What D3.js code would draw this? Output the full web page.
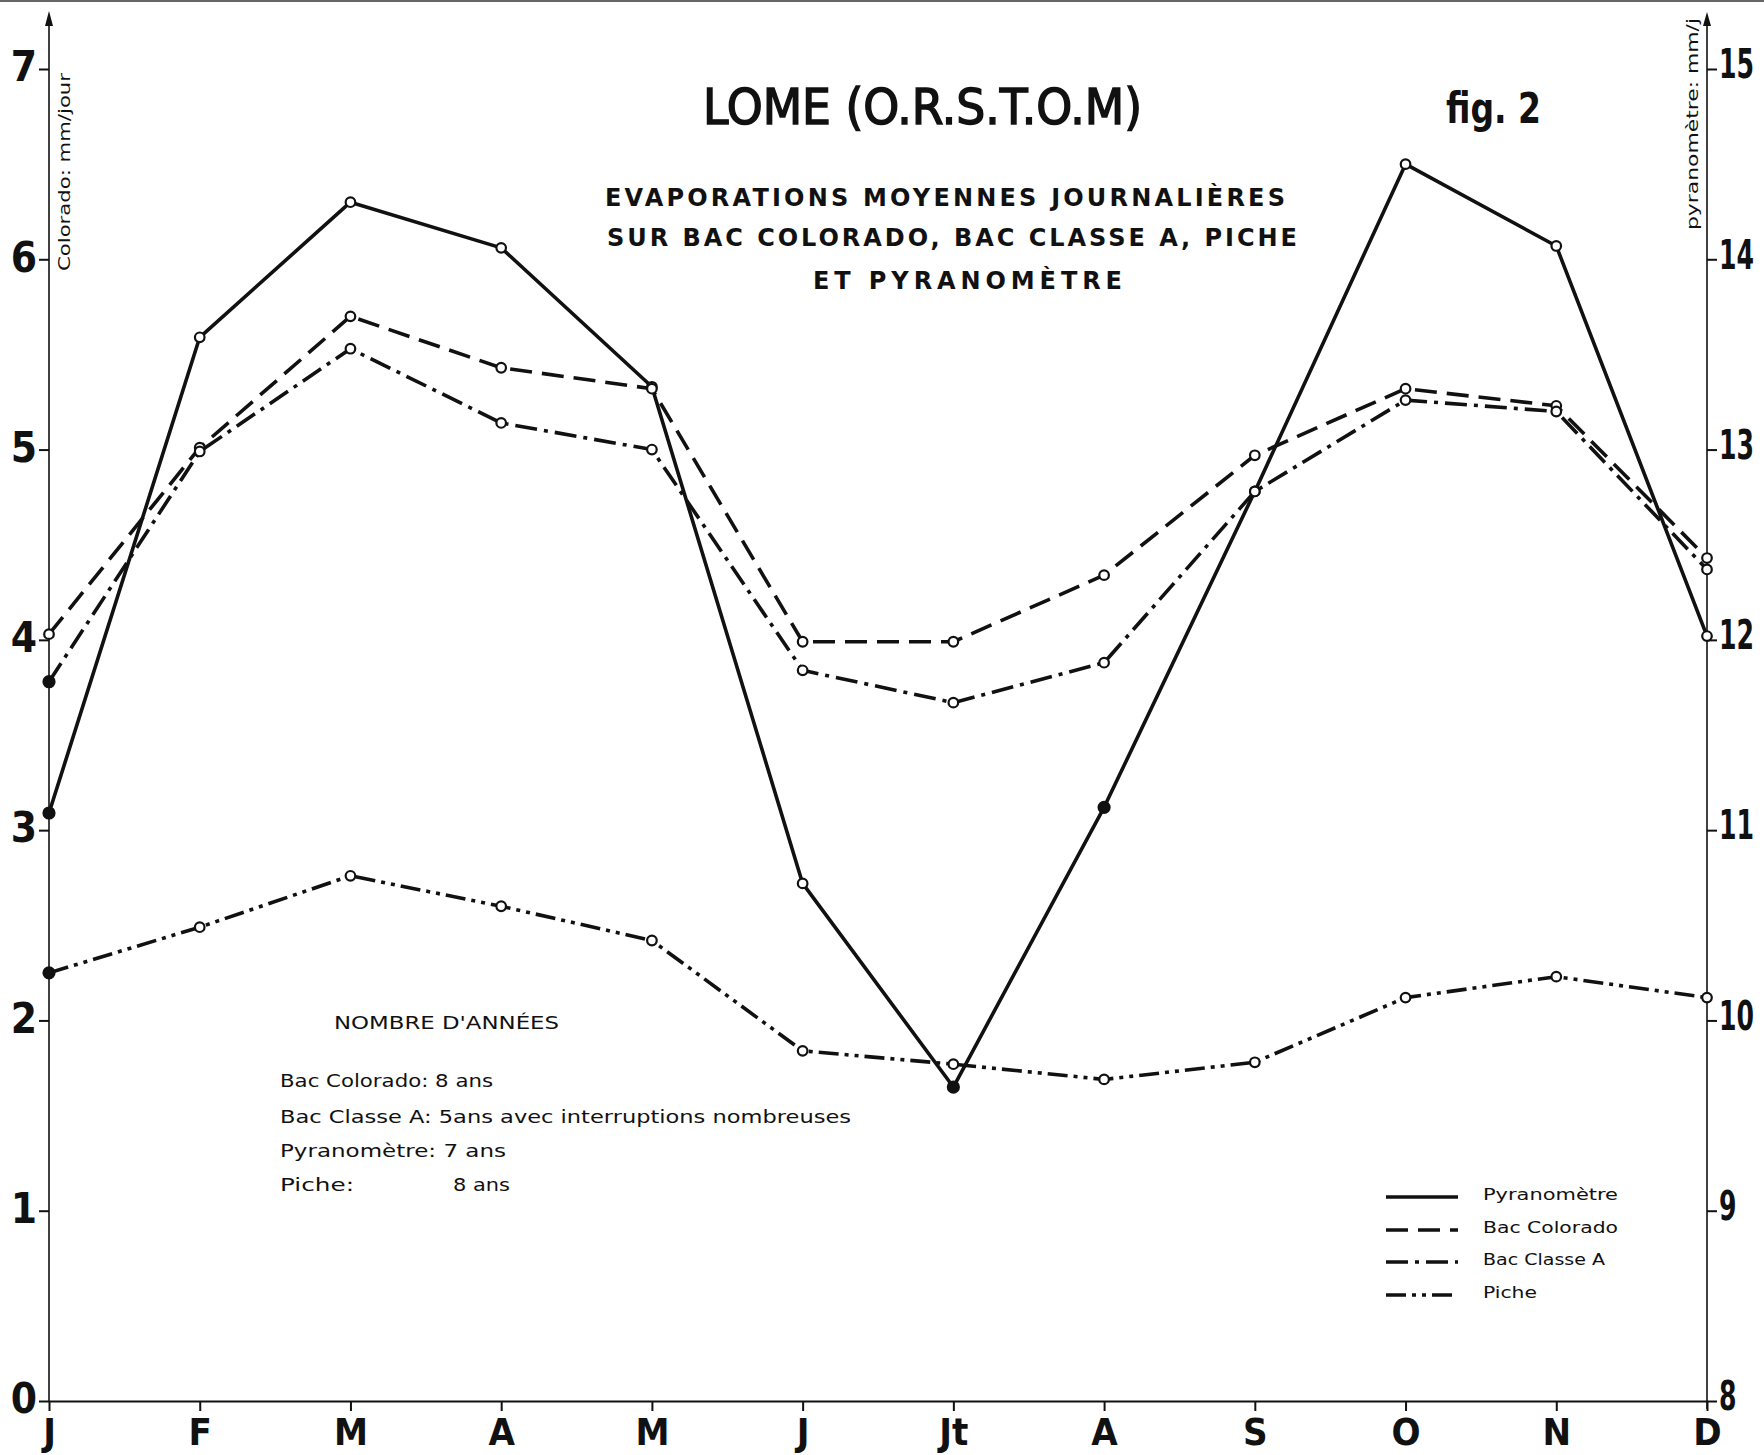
<!DOCTYPE html>
<html>
<head>
<meta charset="utf-8">
<script src="https://cdn.jsdelivr.net/npm/d3@7/dist/d3.min.js"></script>
<style>
  html, body { margin: 0; padding: 0; background: #ffffff; }
  svg { display: block; }
</style>
</head>
<body>
<script>
// ---------- DATA ----------
const months = ["J", "F", "M", "A", "M", "J", "Jt", "A", "S", "O", "N", "D"];
// Pyranomètre (right axis, mm/j)
const pyranometre = [11.09, 13.59, 14.30, 14.06, 13.33, 10.72, 9.65, 11.12, 12.78, 14.50, 14.07, 12.02];
// Bac Colorado (left axis, mm/jour)
const colorado = [4.03, 5.01, 5.70, 5.43, 5.32, 3.99, 3.99, 4.34, 4.97, 5.32, 5.23, 4.43];
// Bac Classe A (left axis)
const classeA = [3.78, 4.99, 5.53, 5.14, 5.00, 3.84, 3.67, 3.88, 4.78, 5.26, 5.20, 4.37];
// Piche (left axis)
const piche = [2.25, 2.49, 2.76, 2.60, 2.42, 1.84, 1.77, 1.69, 1.78, 2.12, 2.23, 2.12];

const leftTicks = [0, 1, 2, 3, 4, 5, 6, 7];
const rightTicks = [8, 9, 10, 11, 12, 13, 14, 15];

const titleText = "LOME (O.R.S.T.O.M)";
const figText = "fig. 2";
const subtitleLines = ["EVAPORATIONS MOYENNES JOURNALIÈRES", "SUR BAC COLORADO, BAC CLASSE A, PICHE", "ET PYRANOMÈTRE"];
const leftAxisTitle = "Colorado: mm/jour";
const rightAxisTitle = "pyranomètre: mm/j";
const noteTitle = "NOMBRE D'ANNÉES";
const noteLines = ["Bac Colorado:  8 ans", "Bac Classe A: 5ans avec interruptions nombreuses", "Pyranomètre: 7 ans", "Piche:"];
const noteExtra = "8 ans";
const legendLabels = ["Pyranomètre", "Bac Colorado", "Bac Classe A", "Piche"];

// ---------- LAYOUT ----------
const W = 1764, H = 1455;
const svg = d3.select("body").append("svg").attr("width", W).attr("height", H);
svg.append("rect").attr("width", W).attr("height", H).attr("fill", "#fff");

const x = d3.scaleLinear().domain([0, 11]).range([49, 1707]);
const yL = d3.scaleLinear().domain([0, 7]).range([1401, 69]);
const yR = d3.scaleLinear().domain([8, 15]).range([1401, 69]);

const numFont = "'DejaVu Sans Condensed', 'Liberation Sans Narrow', 'DejaVu Sans', sans-serif";
const txtFont = "'DejaVu Sans', 'Liberation Sans', sans-serif";
const ink = "#111";

// scan top edge
svg.append("line").attr("x1", 0).attr("x2", W).attr("y1", 1).attr("y2", 1)
  .attr("stroke", "#666").attr("stroke-width", 2);

// ---------- AXES ----------
const axL = svg.append("g").attr("transform", `translate(${x(0)},0)`)
  .call(d3.axisLeft(yL).tickValues(leftTicks).tickSize(10).tickSizeOuter(0).tickPadding(2).tickFormat(d3.format("d")));
axL.select(".domain").remove();
axL.selectAll(".tick line").attr("stroke", ink).attr("stroke-width", 2);
axL.selectAll(".tick text").attr("font-family", numFont).attr("font-weight", "bold")
  .attr("font-size", 42).attr("fill", ink).attr("dy", "0.28em");

const rScale = 0.7;
const axR = svg.append("g").attr("transform", `translate(${x(11)},0)`)
  .call(d3.axisRight(yR).tickValues(rightTicks).tickSize(10).tickSizeOuter(0).tickPadding(2).tickFormat(d3.format("d")));
axR.select(".domain").remove();
axR.selectAll(".tick line").attr("stroke", ink).attr("stroke-width", 2);
axR.selectAll(".tick text").attr("font-family", numFont).attr("font-weight", "bold")
  .attr("font-size", 40).attr("fill", ink).attr("dy", "0.22em")
  .attr("x", 12 / rScale).attr("transform", `scale(${rScale},1)`);

const axB = svg.append("g").attr("transform", `translate(0,${yL(0)})`)
  .call(d3.axisBottom(x).tickValues(d3.range(months.length)).tickSize(10).tickSizeOuter(0).tickPadding(4)
    .tickFormat(i => months[i]));
axB.select(".domain").attr("stroke", ink).attr("stroke-width", 2);
axB.selectAll(".tick line").attr("stroke", ink).attr("stroke-width", 2);
axB.selectAll(".tick text").attr("font-family", numFont).attr("font-weight", "bold")
  .attr("font-size", 38).attr("fill", ink).attr("dy", "0.78em");

// vertical axis lines with arrows
svg.append("line").attr("x1", x(0)).attr("x2", x(0)).attr("y1", yL(0)).attr("y2", 16)
  .attr("stroke", ink).attr("stroke-width", 1.6);
svg.append("path").attr("d", `M${x(0)},11 L${x(0) - 4},26 L${x(0) + 4},26 Z`).attr("fill", ink);
svg.append("line").attr("x1", x(11)).attr("x2", x(11)).attr("y1", yL(0) + 8).attr("y2", 18)
  .attr("stroke", ink).attr("stroke-width", 1.6);
svg.append("path").attr("d", `M${x(11)},12 L${x(11) - 4},26 L${x(11) + 4},26 Z`).attr("fill", ink);

// axis titles
svg.append("text").attr("transform", `translate(70,172) rotate(-90)`)
  .attr("text-anchor", "middle").attr("font-family", txtFont).attr("font-size", 16)
  .attr("fill", ink).attr("textLength", 198).attr("lengthAdjust", "spacingAndGlyphs").text(leftAxisTitle);
svg.append("text").attr("transform", `translate(1698,124) rotate(-90)`)
  .attr("text-anchor", "middle").attr("font-family", txtFont).attr("font-size", 16)
  .attr("fill", ink).attr("textLength", 212).attr("lengthAdjust", "spacingAndGlyphs").text(rightAxisTitle);

// ---------- SERIES ----------
const series = [
  { name: "Pyranomètre", values: pyranometre, scale: yR, dash: null, filled: [0, 6, 7] },
  { name: "Bac Colorado", values: colorado, scale: yL, dash: "22,10", filled: [] },
  { name: "Bac Classe A", values: classeA, scale: yL, dash: "22,7,4,7", filled: [0] },
  { name: "Piche", values: piche, scale: yL, dash: "20,6,4,6,4,6", filled: [0] }
];

series.forEach(s => {
  const line = d3.line().x((d, i) => x(i)).y(d => s.scale(d));
  svg.append("path").datum(s.values).attr("d", line)
    .attr("fill", "none").attr("stroke", ink).attr("stroke-width", 3.6)
    .attr("stroke-linejoin", "round")
    .attr("stroke-dasharray", s.dash);
});
series.forEach(s => {
  svg.append("g").selectAll("circle").data(s.values).join("circle")
    .attr("cx", (d, i) => x(i)).attr("cy", d => s.scale(d))
    .attr("r", (d, i) => s.filled.includes(i) ? 5.5 : 4.8)
    .attr("fill", (d, i) => s.filled.includes(i) ? ink : "#fff")
    .attr("stroke", ink).attr("stroke-width", 2.2);
});

// ---------- TITLES ----------
svg.append("text").attr("x", 703).attr("y", 124).attr("font-family", numFont)
  .attr("font-size", 49).attr("fill", ink).attr("stroke", ink).attr("stroke-width", 1.4)
  .attr("textLength", 439).attr("lengthAdjust", "spacingAndGlyphs").text(titleText);
svg.append("text").attr("x", 1446).attr("y", 123).attr("font-family", numFont)
  .attr("font-size", 42).attr("font-weight", "bold").attr("fill", ink)
  .attr("textLength", 95).attr("lengthAdjust", "spacingAndGlyphs").text(figText);

const subPos = [[605, 206, 680], [607, 246, 690], [813, 289, 309]];
subtitleLines.forEach((t, i) => {
  svg.append("text").attr("x", subPos[i][0]).attr("y", subPos[i][1])
    .attr("font-family", txtFont).attr("font-size", 24).attr("font-weight", "bold").attr("fill", ink)
    .attr("textLength", subPos[i][2]).attr("lengthAdjust", "spacing").text(t);
});

// ---------- NOTE ----------
svg.append("text").attr("x", 334).attr("y", 1029).attr("font-family", txtFont)
  .attr("font-size", 17).attr("fill", ink).attr("textLength", 225)
  .attr("lengthAdjust", "spacingAndGlyphs").text(noteTitle);
const notePos = [[1087, 213], [1123, 571], [1157, 226], [1191, 74]];
noteLines.forEach((t, i) => {
  svg.append("text").attr("x", 280).attr("y", notePos[i][0]).attr("font-family", txtFont)
    .attr("font-size", 17).attr("fill", ink).attr("textLength", notePos[i][1])
    .attr("lengthAdjust", "spacingAndGlyphs").text(t);
});
svg.append("text").attr("x", 453).attr("y", 1191).attr("font-family", txtFont)
  .attr("font-size", 17).attr("fill", ink).attr("textLength", 57)
  .attr("lengthAdjust", "spacingAndGlyphs").text(noteExtra);

// ---------- LEGEND ----------
const legY = [1197, 1230, 1262, 1295];
const legW = [135, 135, 122, 54];
series.forEach((s, i) => {
  svg.append("line").attr("x1", 1386).attr("x2", 1458).attr("y1", legY[i]).attr("y2", legY[i])
    .attr("stroke", ink).attr("stroke-width", 3.6).attr("stroke-dasharray", s.dash);
  svg.append("text").attr("x", 1483).attr("y", legY[i] + 3).attr("font-family", txtFont)
    .attr("font-size", 15).attr("fill", ink).attr("textLength", legW[i])
    .attr("lengthAdjust", "spacingAndGlyphs").text(legendLabels[i]);
});
</script>
</body>
</html>
